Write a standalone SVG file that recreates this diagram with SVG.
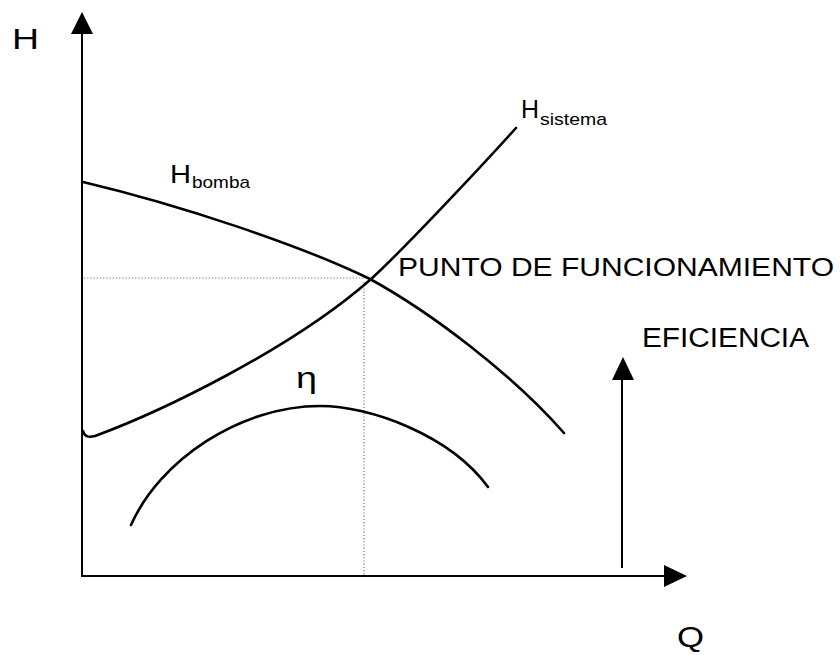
<svg xmlns="http://www.w3.org/2000/svg" width="840" height="655" viewBox="0 0 840 655">
<style>
.ax{stroke:#000;stroke-width:2;fill:none}
.cv{stroke:#000;stroke-width:2.6;fill:none;stroke-linecap:round;stroke-linejoin:round}
.dot{stroke:#777;stroke-width:1.2;fill:none;stroke-dasharray:1.2 2}
.head{fill:#000}
text{font-family:"Liberation Sans",Arial,sans-serif;fill:#000}
</style>
<rect width="840" height="655" fill="#fff"/>
<g id="axes">
<line class="ax" x1="82" y1="577" x2="82" y2="32"/>
<polygon class="head" points="82,12 71,34 93,34"/>
<line class="ax" x1="81" y1="576" x2="666" y2="576"/>
<polygon class="head" points="687,576 664,565 664,587"/>
</g>
<g id="efficiency-arrow">
<line class="ax" x1="622" y1="568" x2="622" y2="378"/>
<polygon class="head" points="623,357 612,380 634,380"/>
</g>
<g id="guides">
<line class="dot" x1="84" y1="278" x2="368" y2="278"/>
<line class="dot" x1="364" y1="282" x2="364" y2="575"/>
</g>
<g id="h-bomba-curve">
<path class="cv" d="M83,182 C180,205 300,245 370,279 C430,312 510,372 564,433"/>
</g>
<g id="h-sistema-curve">
<path class="cv" d="M83,431 C84,436 88,438 95,436 C160,412 290,350 370,280 C400,253 480,168 516,128"/>
</g>
<g id="eta-curve">
<path class="cv" d="M131,525 C160,460 240,406 320,406 C370,406 450,435 488,487"/>
</g>
<g id="label-H">
<text x="12" y="49" font-size="30" textLength="27" lengthAdjust="spacingAndGlyphs">H</text>
</g>
<g id="label-Q">
<text x="677" y="647" font-size="30" textLength="27" lengthAdjust="spacingAndGlyphs">Q</text>
</g>
<g id="label-hbomba">
<text x="170" y="183" font-size="25" textLength="21" lengthAdjust="spacingAndGlyphs">H</text>
<text x="192" y="188" font-size="17" textLength="58" lengthAdjust="spacingAndGlyphs">bomba</text>
</g>
<g id="label-hsistema">
<text x="521" y="118" font-size="25" textLength="18" lengthAdjust="spacingAndGlyphs">H</text>
<text x="540" y="125" font-size="17" textLength="67" lengthAdjust="spacingAndGlyphs">sistema</text>
</g>
<g id="label-punto">
<text x="398" y="276" font-size="26" textLength="436" lengthAdjust="spacingAndGlyphs">PUNTO DE FUNCIONAMIENTO</text>
</g>
<g id="label-eficiencia">
<text x="642" y="347" font-size="27" textLength="167" lengthAdjust="spacingAndGlyphs">EFICIENCIA</text>
</g>
<g id="label-eta">
<text x="296" y="388" font-size="30" textLength="21" lengthAdjust="spacingAndGlyphs">η</text>
</g>
</svg>
